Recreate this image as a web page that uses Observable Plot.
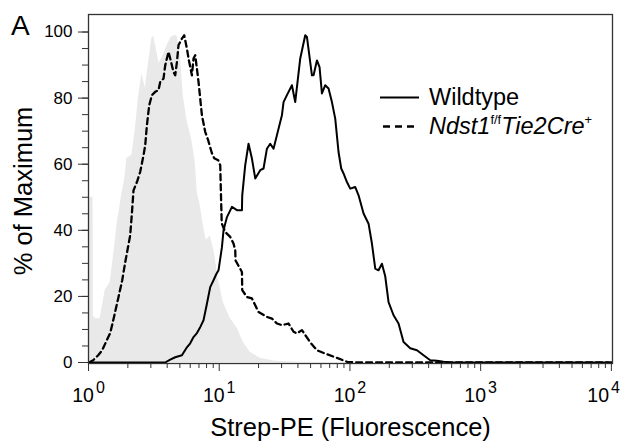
<!DOCTYPE html>
<html><head><meta charset="utf-8">
<script src="https://cdn.jsdelivr.net/npm/d3@7"></script>
<script src="https://cdn.jsdelivr.net/npm/@observablehq/plot@0.6"></script>
<style>
body{margin:0;background:#fff;}
#wrap{position:relative;width:622px;height:441px;font-family:"Liberation Sans",Arial,sans-serif;color:#000;overflow:hidden;}
#wrap svg.plot{position:absolute;left:0;top:0;}
#panel{position:absolute;left:11px;top:12px;font-size:28px;line-height:28px;}
#legend{position:absolute;left:380px;top:83px;font-size:23.5px;line-height:29px;}
#legend .row{display:flex;align-items:center;height:29px;white-space:nowrap;}
#legend .row svg{width:39px;height:29px;margin-right:10px;flex:none;}
#legend sup{font-size:0.55em;vertical-align:0.75em;line-height:0;}
</style></head><body>
<div id="wrap"></div>
<script>
// ---- data ----
const controlFluor = [1.0035,1.006,1.084,1.09,1.145,1.229,1.342,1.466,1.573,1.658,1.801,1.90,1.967,2.148,2.277,2.401,2.563,2.715,2.862,3.055,3.154,3.337,3.474,3.727,4.001,4.292,4.606,4.771,5.029,5.304,5.661,6.181,6.553,6.788,7.155,7.544,7.953,8.535,9.155,9.825,10.73,12.14,13.73,15.26,17.27,20.6,26.8,41.7,59.4];
const controlPct   = [0,50,50,14,13.2,13.4,21.9,24.3,34.0,42.1,51,56,61.7,62.7,70.3,79.4,87.5,83.0,89.9,98.1,98.7,93.9,90.5,92.9,96.0,98.4,99.0,98.7,93.5,80.9,73.3,67.2,60.6,51.5,47.6,41.5,37.0,38.2,33.4,25.5,18.2,13.4,10.4,6.1,3.1,1.3,0.4,0.1,0];

const knockoutFluor = [1.01,1.086,1.186,1.273,1.378,1.466,1.559,1.687,1.811,1.892,1.967,2.085,2.148,2.210,2.346,2.486,2.636,2.715,2.798,2.913,3.055,3.238,3.433,3.537,3.748,3.862,4.094,4.219,4.470,4.606,4.747,4.882,5.184,5.398,5.661,5.823,6.181,6.360,6.553,6.752,6.944,7.155,7.372,7.814,8.240,8.793,9.157,9.824,10.18,10.30,10.45,11.12,12.14,12.86,13.26,13.33,14.92,15.00,16.29,17.79,18.86,19.98,23.17,25.31,27.64,30.18,33.90,37.03,39.31,42.93,45.50,49.70,55.92,64.71,79.52,95.35,119.9,10000];
const knockoutPct   = [0,0.7,2.2,3.7,6.7,8.9,13.4,19.4,24.9,29.4,33.1,38.5,45.2,52.1,54.6,57.7,62.7,65.7,71.8,77.8,80.9,81.9,82.4,84.9,85.9,89.9,94.0,92.0,87.9,86.9,90.9,96.0,98.0,99.0,95.0,92.0,86.9,92.0,93.0,88.9,84.9,79.9,74.8,69.8,67.2,63.3,61.8,61.2,59.7,51.6,42.1,39.5,38.0,36.0,34.0,30.9,27.4,21.9,19.8,19.4,17.3,15.3,13.8,13.3,11.8,11.3,11.8,9.3,8.8,9.8,8.3,6.1,3.7,2.7,1.4,0.2,0,0];

const wildtypeFluor = [1.0035,3.862,4.219,4.606,5.184,5.661,5.999,6.360,6.752,7.155,7.585,8.052,8.534,9.045,9.484,9.877,10.49,10.79,11.46,12.51,13.66,14.92,15.00,15.81,16.76,17.79,18.86,20.59,21.83,23.17,24.56,26.03,27.64,30.18,31.05,32.96,36.00,38.14,41.67,45.50,46.88,51.20,52.67,55.92,58.54,61.06,64.71,68.6,72.82,77.18,81.80,85.78,89.33,94.85,100.5,109.8,116.4,127.1,138.8,147.3,156.2,165.5,175.7,186.2,197.4,215.6,235.4,257.1,289.3,325.6,365.7,411.6,463.0,520.2,585.5,9469];
const wildtypePct   = [0,0,0.9,1.6,2.2,4.6,5.8,7.7,8.9,10.7,12.8,17.8,22.8,24.9,26.7,27.9,34.9,40.0,44.0,47.1,46.1,46.1,50.6,59.7,66.2,61.7,55.7,58.2,58.7,64.7,66.2,64.7,68.8,74.8,78.8,80.9,83.9,78.8,92.0,99.0,98.5,86.9,86.9,91.4,89.4,81.4,83.9,82.9,78.8,73.8,63.7,58.7,57.2,54.6,52.6,53.1,50.6,45.1,42.0,36.0,28.4,27.9,29.9,26.1,18.3,14.3,11.8,6.2,4.3,3.7,2.2,0.7,0.5,0.2,0,0];

const xMajorTicks = [1,10,100,1000,10000];
const xMinorTicks = [2,3,4,5,6,7,8,9,20,30,40,50,60,70,80,90,200,300,400,500,600,700,800,900,2000,3000,4000,5000,6000,7000,8000,9000];
const yMajorTicks = [0,20,40,60,80,100];
const yMinorTicks = [0,5,10,15,20,25,30,35,40,45,50,55,60,65,70,75,80,85,90,95,100];

const seriesLabels = ["Wildtype", "Ndst1", "f/f", "Tie2Cre", "+"];
const xTitle = "Strep-PE (Fluorescence)";
const yTitle = "% of Maximum";
const panelLabel = "A";

const zip = (xs, ys) => xs.map((x, i) => ({x, y: ys[i]}));
const control = zip(controlFluor, controlPct);
const knockout = zip(knockoutFluor, knockoutPct);
const wildtype = zip(wildtypeFluor, wildtypePct);

const font = "Liberation Sans, Arial, sans-serif";
const plot = Plot.plot({
  width: 622, height: 441,
  marginLeft: 88, marginRight: 10, marginTop: 14, marginBottom: 78,
  x: {type: "log", domain: [1, 10200]},
  y: {domain: [-0.3, 105.3]},
  style: {fontFamily: font, background: "transparent", color: "#000", overflow: "visible"},
  marks: [
    Plot.areaY(control, {x: "x", y: "y", fill: "#e9e9e9"}),
    Plot.line(knockout, {x: "x", y: "y", stroke: "#000", strokeWidth: 2.3, strokeDasharray: "6,4"}),
    Plot.line(wildtype, {x: "x", y: "y", stroke: "#000", strokeWidth: 2}),
    Plot.axisY({ticks: yMinorTicks, tickSize: 6, text: null, label: null, stroke: "#333"}),
    Plot.axisY({ticks: yMajorTicks, tickSize: 10, tickPadding: 6, fontSize: 17, label: null, stroke: "#333"}),
    Plot.axisX({ticks: xMinorTicks, tickSize: 5, text: null, label: null, stroke: "#333"}),
    Plot.axisX({ticks: xMajorTicks, tickSize: 8, tickPadding: 17, fontSize: 19.5, label: null, stroke: "#333",
      tickFormat: d => String(Math.round(Math.log10(d)))}),
    Plot.frame({stroke: "#333", strokeWidth: 1.3}),
    Plot.text([xTitle], {frameAnchor: "bottom", lineAnchor: "bottom", dy: 72, fontSize: 25.5, fill: "#000"}),
    Plot.text([yTitle], {frameAnchor: "left", textAnchor: "middle", rotate: -90, dx: -65, dy: 2, fontSize: 25.5, fill: "#000"})
  ]
});
plot.classList.add("plot");

const wrap = document.getElementById("wrap");
wrap.appendChild(plot);

// superscript exponents on the major x tick labels
const NS = "http://www.w3.org/2000/svg";
plot.querySelectorAll('g[aria-label="x-axis tick label"] text').forEach(t => {
  const exp = t.textContent;
  if (!exp) return;
  t.textContent = "";
  t.setAttribute("text-anchor", "middle");
  const base = document.createElementNS(NS, "tspan");
  base.textContent = "10";
  const sup = document.createElementNS(NS, "tspan");
  sup.setAttribute("dx", "2");
  sup.setAttribute("dy", "-9");
  sup.setAttribute("font-size", "16");
  sup.textContent = exp;
  t.appendChild(base);
  t.appendChild(sup);
  // keep the label inside the picture
  const bb = t.getBoundingClientRect();
  if (bb.right > 620) {
    const shift = bb.right - 620;
    const prev = t.getAttribute("transform") || "";
    t.setAttribute("transform", prev + ` translate(${-shift},0)`);
  }
});

const panel = document.createElement("div");
panel.id = "panel";
panel.textContent = panelLabel;
wrap.appendChild(panel);

const legend = document.createElement("div");
legend.id = "legend";
legend.innerHTML =
  `<div class="row"><svg viewBox="0 0 39 29"><line x1="0" x2="39" y1="14.5" y2="14.5" stroke="#000" stroke-width="2.2"/></svg><span>${seriesLabels[0]}</span></div>` +
  `<div class="row"><svg viewBox="0 0 39 29"><line x1="3" x2="36" y1="14.5" y2="14.5" stroke="#000" stroke-width="2.6" stroke-dasharray="7,5"/></svg><span><i>${seriesLabels[1]}</i><sup>${seriesLabels[2]}</sup><i>${seriesLabels[3]}</i><sup>${seriesLabels[4]}</sup></span></div>`;
wrap.appendChild(legend);
</script>
</body></html>
